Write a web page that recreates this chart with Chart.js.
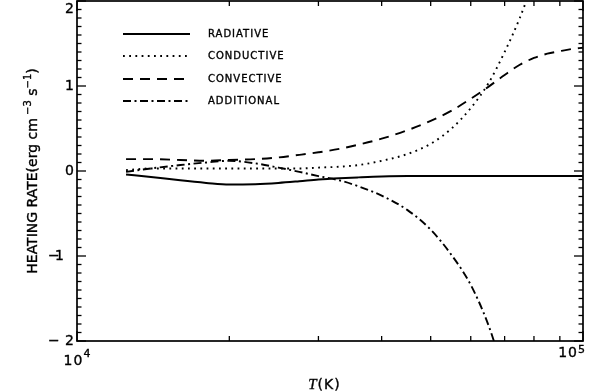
<!DOCTYPE html>
<html><head><meta charset="utf-8">
<script src="https://cdn.jsdelivr.net/npm/chart.js@4.4.1/dist/chart.umd.min.js"></script>
<style>html,body{margin:0;padding:0;background:#fff;}canvas{display:block;}</style>
</head><body>
<canvas id="c" width="616" height="392"></canvas>
<script>
// ---- data ----
const temperature = [12500,14000,16000,18000,20000,22500,25000,27500,30000,33000,36000,40000,45000,50000,55000,60000,65000,70000,75000,80000,85000,90000,95000,100000];
const radiative  = [-0.04,-0.07,-0.11,-0.14,-0.16,-0.155,-0.14,-0.12,-0.10,-0.085,-0.075,-0.065,-0.06,-0.06,-0.06,-0.06,-0.06,-0.06,-0.06,-0.06,-0.06,-0.06,-0.06,-0.06];
const conductive = [0.01,0.03,0.03,0.03,0.03,0.03,0.03,0.03,0.04,0.05,0.07,0.12,0.20,0.32,0.50,0.74,1.03,1.40,1.80,2.25,null,null,null,null];
const convective = [0.14,0.14,0.13,0.12,0.13,0.14,0.16,0.19,0.22,0.26,0.31,0.38,0.48,0.59,0.71,0.85,0.99,1.13,1.25,1.33,1.38,1.41,1.435,1.45];
const additional = [-0.01,0.03,0.07,0.10,0.12,0.09,0.04,-0.01,-0.06,-0.11,-0.18,-0.29,-0.46,-0.69,-0.99,-1.34,-1.81,-2.40,null,null,null,null,null,null];
const seriesNames = ['RADIATIVE','CONDUCTIVE','CONVECTIVE','ADDITIONAL'];
const yTickValues = [-2,-1,0,1,2];
const yTickLabels = ['\u22122','\u22121','0','1','2'];
const xTickValues = [1e4,1e5];
const xTickBase = ['10','10'];
const xTickExp = ['4','5'];

const dashes = [[],[1.8,4.4],[10,7],[8,3.5,2,3.5]];
const SANS = '"DejaVu Sans", Verdana, sans-serif';

function line(ctx,x1,y1,x2,y2){ctx.beginPath();ctx.moveTo(x1,y1);ctx.lineTo(x2,y2);ctx.stroke();}
function txt(ctx,s,x,y){ctx.fillText(s,x,y);ctx.strokeText(s,x,y);}

const axisPlugin = {
  id:'axes',
  afterDraw(chart){
    const {ctx, chartArea:a, scales:{x,y}} = chart;
    ctx.save();
    ctx.strokeStyle='#000'; ctx.fillStyle='#000';
    ctx.setLineDash([]);
    // frame
    ctx.lineWidth=1.7;
    ctx.strokeRect(a.left, a.top, a.right-a.left, a.bottom-a.top);
    // y ticks (major 1, minor 0.1), inward on both sides
    ctx.lineWidth=1.3;
    for(let i=-20;i<=20;i++){
      const py=y.getPixelForValue(i/10);
      const len=(i%10===0)?9:4.5;
      line(ctx,a.left,py,a.left+len,py);
      line(ctx,a.right,py,a.right-len,py);
    }
    // x ticks
    for(let d=1; d<=10; d++){
      const px=x.getPixelForValue(d*1e4);
      const len=(d===1||d===10)?10:5;
      line(ctx,px,a.bottom,px,a.bottom-len);
      line(ctx,px,a.top,px,a.top+len);
    }
    ctx.lineWidth=0.35;
    // y tick labels
    ctx.font='14px '+SANS;
    ctx.textBaseline='middle';
    yTickValues.forEach((v,i)=>{
      let py=y.getPixelForValue(v);
      if(v===2) py+=8;
      const lab=yTickLabels[i];
      if(v<0){
        ctx.textAlign='left';
        txt(ctx,lab[0], a.left-29, py);
        const digit=lab.slice(1);
        if(v===-1){ txt(ctx,digit, a.left-22, py); }
        else { ctx.textAlign='right'; txt(ctx,digit, a.left-3, py); }
      } else {
        ctx.textAlign='right';
        txt(ctx,lab, a.left-3, py);
      }
    });
    // x tick labels with superscript exponent
    ctx.textBaseline='alphabetic'; ctx.textAlign='left';
    xTickValues.forEach((v,i)=>{
      const px=x.getPixelForValue(v);
      ctx.font='14px '+SANS; ctx.letterSpacing='1px';
      const wb=ctx.measureText(xTickBase[i]).width;
      ctx.font='11px '+SANS; ctx.letterSpacing='0px';
      const we=ctx.measureText(xTickExp[i]).width;
      const w=wb+we;
      let left, base, raise;
      if(i===0){left=px-w/2; base=a.bottom+24; raise=8;} else {left=px+2-w; base=a.bottom+16; raise=4;}
      ctx.font='14px '+SANS; ctx.letterSpacing='1px';
      txt(ctx,xTickBase[i], left, base);
      ctx.font='11px '+SANS; ctx.letterSpacing='0px';
      txt(ctx,xTickExp[i], left+wb, base-raise);
    });
    ctx.letterSpacing='0px';
    // x title: italic T + (K)
    const SERIF_I='italic 15px "Liberation Serif", "Times New Roman", serif';
    ctx.font=SERIF_I;
    const wT=ctx.measureText('T').width;
    ctx.font='14px '+SANS; ctx.letterSpacing='1px';
    const wK=ctx.measureText('(K)').width;
    const cx=324;
    let sx=cx-(wT+wK)/2;
    ctx.letterSpacing='0px';
    ctx.font=SERIF_I;
    txt(ctx,'T', sx, 389);
    ctx.font='14px '+SANS; ctx.letterSpacing='1px';
    txt(ctx,'(K)', sx+wT+1, 389);
    ctx.letterSpacing='0px';
    // y title rotated with superscripts
    const segs=[{t:'HEATING RATE(erg cm'},{t:' \u22123',sup:true},{t:' s'},{t:'\u22121',sup:true},{t:')'}];
    ctx.save();
    ctx.translate(32,171);
    ctx.rotate(-Math.PI/2);
    let total=0;
    segs.forEach(s=>{ctx.font=(s.sup?'10px ':'14px ')+SANS; s.w=ctx.measureText(s.t).width; total+=s.w;});
    let xx=-total/2;
    ctx.textBaseline='alphabetic'; ctx.textAlign='left';
    segs.forEach(s=>{ctx.font=(s.sup?'10px ':'14px ')+SANS; txt(ctx,s.t, xx, s.sup? -1 : 5); xx+=s.w;});
    ctx.restore();
    // legend
    const rows=[34,56,79,101];
    seriesNames.forEach((n,i)=>{
      ctx.lineWidth=1.8;
      ctx.setLineDash(dashes[i]);
      line(ctx,123,rows[i],190,rows[i]);
      ctx.setLineDash([]);
      ctx.lineWidth=0.35;
      ctx.font='10px '+SANS; ctx.letterSpacing='1px';
      ctx.textBaseline='middle'; ctx.textAlign='left';
      txt(ctx,n, 208, rows[i]);
    });
    ctx.restore();
  }
};

function mk(label, vals, dash, w){
  return {label, data: temperature.map((t,i)=>({x:t,y:vals[i]})),
    borderColor:'#000', borderWidth:w, borderDash:dash, pointRadius:0,
    cubicInterpolationMode:'monotone', fill:false, spanGaps:false};
}

new Chart(document.getElementById('c'), {
  type:'line',
  data:{datasets:[
    mk(seriesNames[0], radiative, dashes[0], 2),
    mk(seriesNames[1], conductive, dashes[1], 1.9),
    mk(seriesNames[2], convective, dashes[2], 1.9),
    mk(seriesNames[3], additional, dashes[3], 1.9)
  ]},
  options:{
    responsive:false, animation:false, devicePixelRatio:1,
    layout:{padding:{left:77,right:33,top:1,bottom:51}},
    scales:{
      x:{type:'logarithmic', min:1e4, max:1e5, display:false},
      y:{type:'linear', min:-2, max:2, display:false}
    },
    plugins:{legend:{display:false}, tooltip:{enabled:false}},
    elements:{point:{radius:0}}
  },
  plugins:[axisPlugin]
});
</script>
</body></html>
